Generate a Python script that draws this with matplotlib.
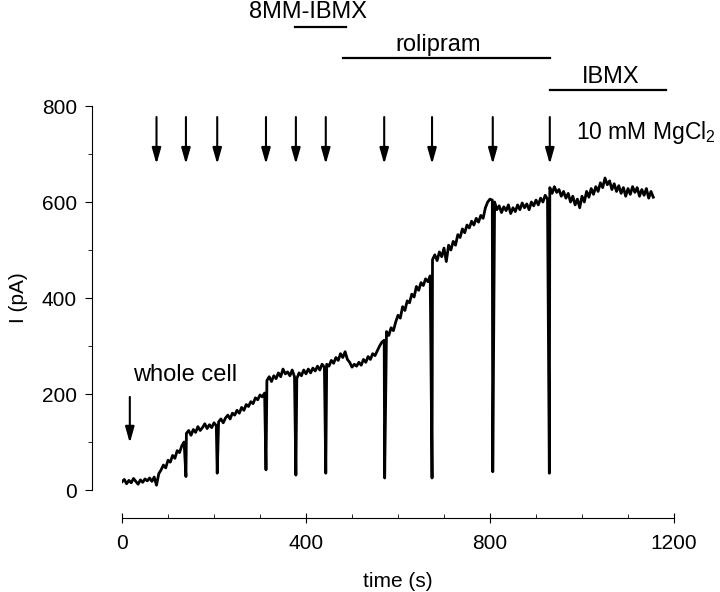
"""
Whole-cell current trace with drug application bars and MgCl2 pulses.
"""

import numpy as np
import matplotlib.pyplot as plt
from matplotlib.ticker import MultipleLocator

plt.rcParams['font.family'] = 'Liberation Sans'
plt.rcParams['font.size'] = 15
plt.rcParams['mathtext.fontset'] = 'custom'
plt.rcParams['mathtext.rm'] = 'Liberation Sans'

# current trace, sampled every 5 s (pA)
trace_t0 = 0
trace_dt = 5
trace_pA = [
    17, 22, 13, 20, 15, 24, 18, 12, 21, 16, 23, 19,
    25, 18, 27, 10, 34, 42, 52, 46, 62, 58, 72, 66,
    82, 78, 92, 100, 118, 124, 114, 126, 120, 132, 124, 130,
    138, 128, 136, 130, 140, 134, 142, 148, 140, 150, 156, 148,
    160, 156, 166, 160, 172, 166, 178, 174, 184, 180, 192, 188,
    198, 194, 202, 228, 236, 226, 238, 232, 244, 236, 252, 242,
    246, 238, 250, 236, 232, 244, 238, 250, 242, 252, 244, 254,
    248, 258, 250, 262, 256, 262, 258, 270, 264, 276, 270, 284,
    276, 288, 272, 266, 256, 262, 258, 266, 260, 272, 266, 278,
    272, 284, 280, 290, 300, 308, 312, 330, 322, 338, 332, 350,
    364, 358, 382, 374, 394, 390, 408, 402, 424, 416, 432, 426,
    440, 434, 446, 480, 490, 478, 496, 486, 504, 476, 510, 500,
    518, 510, 532, 526, 544, 536, 552, 546, 560, 552, 566, 558,
    572, 566, 588, 600, 606, 604, 600, 584, 592, 578, 590, 582,
    594, 576, 588, 580, 594, 584, 598, 588, 596, 584, 600, 592,
    604, 594, 608, 600, 614, 606, 630, 618, 632, 620, 626, 612,
    622, 608, 618, 600, 612, 594, 606, 588, 612, 600, 622, 610,
    628, 616, 632, 622, 640, 630, 650, 636, 644, 626, 638, 622,
    634, 618, 630, 612, 628, 616, 632, 620, 630, 612, 626, 614,
    628, 608, 622, 610,
]

# brief MgCl2 pulses: times (s) and lowest current reached (pA)
spike_t = [139, 207, 313, 378, 443, 571, 674, 806, 929]
spike_pA = [28, 35, 42, 31, 35, 25, 25, 38, 35]

# arrows marking 10 mM MgCl2 application
arrow_t = [75, 139, 207, 313, 378, 443, 570, 674, 806, 930]

# drug application bars: label, start, end
bar_labels = ['8MM-IBMX', 'rolipram', 'IBMX']
bar_start = [376, 480, 930]
bar_end = [487, 930, 1183]

t = trace_t0 + trace_dt * np.arange(len(trace_pA))
t_all = np.concatenate([t, spike_t])
i_all = np.concatenate([trace_pA, spike_pA])
order = np.argsort(t_all, kind='stable')

fig = plt.figure(figsize=(7.2, 5.92), dpi=100)
ax = fig.add_axes([122 / 720, 1 - 490 / 592, 552 / 720, 384 / 592])

ax.plot(t_all[order], i_all[order], color='black', linewidth=2.0)

ax.set_xlim(0, 1200)
ax.set_ylim(0, 800)
ax.spines['top'].set_visible(False)
ax.spines['right'].set_visible(False)
ax.spines['left'].set_position(('outward', 21.5))
ax.spines['bottom'].set_position(('outward', 20))
ax.spines['left'].set_bounds(0, 800)
ax.spines['bottom'].set_bounds(0, 1200)
ax.xaxis.set_major_locator(MultipleLocator(400))
ax.xaxis.set_minor_locator(MultipleLocator(100))
ax.yaxis.set_major_locator(MultipleLocator(200))
ax.yaxis.set_minor_locator(MultipleLocator(100))
ax.tick_params(axis='x', which='major', direction='inout', length=7, pad=8)
ax.tick_params(axis='x', which='minor', direction='in', length=3)
ax.tick_params(axis='y', which='major', direction='out', length=5, pad=6)
ax.tick_params(axis='y', which='minor', direction='out', length=3)

ax.set_xlabel('time (s)', labelpad=14)
ax.set_ylabel('I (pA)', labelpad=10)

arrow_style = dict(arrowstyle='-|>,head_width=0.17,head_length=0.6',
                   color='black', lw=1.5, shrinkA=0, shrinkB=0,
                   mutation_scale=16)
for ta in arrow_t:
    ax.annotate('', xy=(ta, 679), xytext=(ta, 777),
                arrowprops=arrow_style, annotation_clip=False)

ax.annotate('', xy=(17, 98), xytext=(17, 194),
            arrowprops=arrow_style, annotation_clip=False)
ax.text(138, 240, 'whole cell', ha='center', va='center', fontsize=17)
ax.text(988, 744, '10 mM MgCl$_2$', ha='left', va='center', fontsize=16.5)

# application bars above the trace
bar_y = [965, 900, 833]
text_y = [996, 927, 860]
text_x = [404, 687, 1063]
for lab, x0, x1, yb, xt, yt in zip(bar_labels, bar_start, bar_end,
                                   bar_y, text_x, text_y):
    ax.plot([x0, x1], [yb, yb], color='black', linewidth=1.6, clip_on=False)
    ax.text(xt, yt, lab, ha='center', va='center', fontsize=17)

plt.savefig('out.png', dpi=100)
